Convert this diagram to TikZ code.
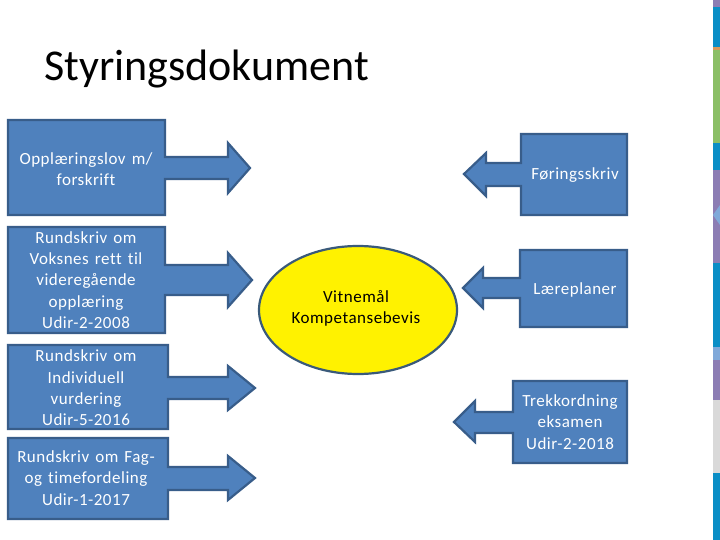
\documentclass[tikz,border=0pt]{standalone}
\usepackage{fontspec}
\setmainfont{Carlito}[Ligatures=NoCommon]
\newfontfamily\bodyfont{Carlito}[Ligatures=NoCommon, LetterSpace=3.0, WordSpace=1.4]
\definecolor{cofill}{HTML}{4F81BD}
\definecolor{coline}{HTML}{385D8A}
\definecolor{ellline}{HTML}{3A5A7A}
\definecolor{stblue}{HTML}{0A8EC6}
\definecolor{stgreen}{HTML}{8BBF66}
\definecolor{stpurple}{HTML}{8C7DB4}
\definecolor{stlblue}{HTML}{80A9D9}
\definecolor{stgray}{HTML}{D9D9D9}
\definecolor{storange}{HTML}{D9995A}
\tikzset{
  callout/.style={fill=cofill, draw=coline, line width=2.2pt, line join=miter},
  ctext/.style={text=white, font=\bodyfont\fontsize{17}{21.3}\selectfont, align=center, inner sep=0pt},
  etext/.style={text=black, font=\bodyfont\fontsize{17}{21.3}\selectfont, align=center, inner sep=0pt},
}
\begin{document}
\begin{tikzpicture}[x=1pt,y=-1pt]
\useasboundingbox (0,0) rectangle (720,540);
\fill[white] (0,0) rectangle (720,540);
% decorative strip
\fill[stblue] (713,0) rectangle (720,540);
\fill[stpurple] (713,0) rectangle (720,7);
\fill[storange] (713,47) rectangle (720,50);
\fill[stgreen] (713,50) rectangle (720,143);
\fill[stpurple] (713,170) rectangle (720,263);
\fill[stlblue] (713,215) -- (720,205) -- (720,225) -- cycle;
\fill[stlblue] (713,347) rectangle (720,360);
\fill[stpurple] (713,360) rectangle (720,400);
\fill[stgray] (713,400) rectangle (720,473);
% title
\node[anchor=base west, inner sep=0pt, font=\fontsize{44}{48}\selectfont] (title) at (44,81) {Styringsdokument};
% left callouts
\draw[callout] (8,120) -- (165,120) -- (165,157) -- (228,157) -- (228,143) -- (250,168) -- (228,193) -- (228,179) -- (165,179) -- (165,215) -- (8,215) -- cycle;
\draw[callout] (8,227) -- (165,227) -- (165,265) -- (228,265) -- (228,253) -- (252,280) -- (228,307) -- (228,295) -- (165,295) -- (165,333) -- (8,333) -- cycle;
\draw[callout] (8,345) -- (168,345) -- (168,377) -- (228,377) -- (228,366) -- (255,388) -- (228,410) -- (228,399) -- (168,399) -- (168,429) -- (8,429) -- cycle;
\draw[callout] (8,438) -- (168,438) -- (168,467) -- (228,467) -- (228,456) -- (255,478) -- (228,500) -- (228,490) -- (168,490) -- (168,519) -- (8,519) -- cycle;
% right callouts
\draw[callout] (627,134) -- (521,134) -- (521,163) -- (486,163) -- (486,153) -- (464,174) -- (486,196) -- (486,186) -- (521,186) -- (521,215) -- (627,215) -- cycle;
\draw[callout] (627,250) -- (520,250) -- (520,278) -- (483,278) -- (483,268) -- (463,288) -- (483,308) -- (483,298) -- (520,298) -- (520,327) -- (627,327) -- cycle;
\draw[callout] (627,381) -- (513,381) -- (513,412) -- (475,412) -- (475,401) -- (454,422) -- (475,442) -- (475,433) -- (513,433) -- (513,463) -- (627,463) -- cycle;
% ellipse
\draw[fill=yellow, draw=ellline, line width=2.2pt] (358,310) ellipse [x radius=99, y radius=64];
% texts
\node[ctext] (t1) at (86,169) {Opplæringslov m/\\forskrift};
\node[ctext] (t2) at (86,280) {Rundskriv om\\Voksnes rett til\\videregående\\opplæring\\Udir-2-2008};
\node[ctext] (t3) at (86,388) {Rundskriv om\\Individuell\\vurdering\\Udir-5-2016};
\node[ctext] (t4) at (86,478) {Rundskriv om Fag-\\og timefordeling\\Udir-1-2017};
\node[ctext] (r1) at (575,175) {Føringsskriv};
\node[ctext] (r2) at (575,290) {Læreplaner};
\node[ctext] (r3) at (570,422) {Trekkordning\\eksamen\\Udir-2-2018};
\node[etext] (e) at (356,308) {Vitnemål\\Kompetansebevis};
\end{tikzpicture}
\end{document}
